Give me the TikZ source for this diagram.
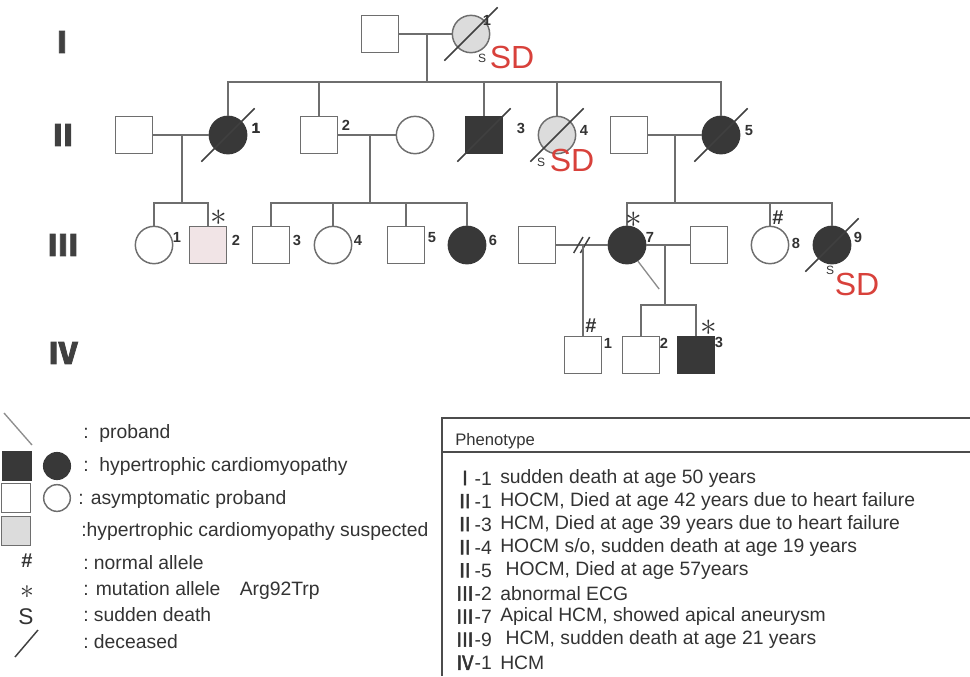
\documentclass[tikz,border=0pt]{standalone}
\usepackage{fontspec}
\setmainfont{Liberation Sans}
\newfontfamily\cjk{Noto Sans CJK JP}[FakeBold=2.5]
\definecolor{linegray}{HTML}{6E6E6E}
\definecolor{darkfill}{HTML}{383838}
\definecolor{lightfill}{HTML}{DCDCDC}
\definecolor{pinkfill}{HTML}{F1E4E6}
\definecolor{sdred}{HTML}{D8413B}
\newcommand{\deadslash}[1]{\draw[slash] ([shift={(-20pt,-20pt)}]#1.center) -- ([shift={(20pt,20pt)}]#1.center);}
\begin{document}
\begin{tikzpicture}[x=0.75pt, y=-0.75pt,
  male/.style={draw=linegray, line width=1.1pt, rectangle, minimum size=28pt, inner sep=0pt},
  female/.style={draw=linegray, line width=1.1pt, circle, minimum size=28pt, inner sep=0pt},
  ill/.style={fill=darkfill, draw=darkfill},
  doubt/.style={fill=lightfill},
  tie/.style={draw=linegray, line width=1.1pt},
  slash/.style={draw=black!75, line width=1.1pt},
  proband/.style={draw=black!45, line width=1pt},
  num/.style={font=\bfseries\fontsize{11}{11}\selectfont, text=black!80, inner sep=0pt},
  sd/.style={text=sdred, font=\fontsize{24}{24}\selectfont, inner sep=0pt},
  sym/.style={font=\bfseries\fontsize{15}{15}\selectfont, text=black!80, inner sep=0pt},
  star/.style={font=\fontsize{26}{26}\selectfont, text=black!80, inner sep=0pt},
  gen/.style={font=\cjk\bfseries\fontsize{22}{22}\selectfont, text=black!75, inner sep=0pt},
  legtext/.style={anchor=west, font=\fontsize{14.5}{14.5}\selectfont, text=black!80, inner sep=0pt}]
\useasboundingbox (0,0) rectangle (970,676);

% generations
\node[gen] (genI) at (62,42) {Ⅰ};
\node[gen] (genII) at (63,135) {Ⅱ};
\node[gen] (genIII) at (63,245) {Ⅲ};
\node[gen] (genIV) at (63,353) {Ⅳ};

% generation I
\node[male] (i0) at (380,34) {};
\node[female, doubt] (i1) at (471,34) {};
\coordinate (m1) at (427,34);
\coordinate (s1) at (427,82);
\draw[tie] (i0) -- (i1);
\draw[tie] (m1) -- (s1);
\deadslash{i1}
\node[num] (i1n) at (487,20) {1};
\node[sym, font=\small] (i1s) at (482,58) {S};
\node[sd] (i1sd) at (512,57) {SD};

% generation II
\node[male] (ii0) at (134,135) {};
\node[female, ill] (ii1) at (228,135) {};
\node[male] (ii2) at (319,135) {};
\node[female] (ii2w) at (415,135) {};
\node[male, ill] (ii3) at (484,135) {};
\node[female, doubt] (ii4) at (557,135) {};
\node[male] (ii5h) at (629,135) {};
\node[female, ill] (ii5) at (721,135) {};
\draw[tie] (ii1.north) |- (s1) -| (ii5.north);
\foreach \n in {ii2, ii3, ii4}
  \draw[tie] (\n.north) -- (\n.north |- s1);
\draw[tie] (ii0) -- (ii1);
\coordinate (m2) at (182,135);
\coordinate (s2) at (182,203);
\draw[tie] (m2) -- (s2);
\draw[tie] (ii2) -- (ii2w);
\coordinate (m3) at (370,135);
\coordinate (s3) at (370,203);
\draw[tie] (m3) -- (s3);
\draw[tie] (ii5h) -- (ii5);
\coordinate (m4) at (675,135);
\coordinate (s4) at (675,203);
\draw[tie] (m4) -- (s4);
\foreach \n in {ii1, ii3, ii4, ii5}
  \deadslash{\n}
\node[num] (ii1n) at (256,128) {1};
\node[num] (ii2n) at (346,125) {2};
\node[num] (ii3n) at (521,128) {3};
\node[num] (ii4n) at (584,130) {4};
\node[num] (ii5n) at (749,131) {5};
\node[sym, font=\small] (ii4s) at (541,162) {S};
\node[sd] (ii4sd) at (572,160) {SD};

% generation III
\node[female] (iii1) at (154,245) {};
\node[male, fill=pinkfill] (iii2) at (208,245) {};
\node[male] (iii3) at (271,245) {};
\node[female] (iii4) at (333,245) {};
\node[male] (iii5) at (406,245) {};
\node[female, ill] (iii6) at (467,245) {};
\node[male] (iii7h) at (537,245) {};
\node[female, ill] (iii7) at (627,245) {};
\node[male] (iii7t) at (709,245) {};
\node[female] (iii8) at (770,245) {};
\node[female, ill] (iii9) at (832,245) {};
\draw[tie] (iii1.north) |- (s2) -| (iii2.north);
\draw[tie] (iii3.north) |- (s3) -| (iii6.north);
\foreach \n in {iii4, iii5}
  \draw[tie] (\n.north) -- (\n.north |- s3);
\draw[tie] (iii7.north) |- (s4) -| (iii9.north);
\draw[tie] (iii8.north) -- (iii8.north |- s4);
\draw[tie] (iii7h) -- (iii7);
\coordinate (m5) at (583,245);
\draw[slash] ([shift={(-7pt,-6pt)}]m5) -- ++(7pt,12pt);
\draw[slash] ([shift={(-2pt,-6pt)}]m5) -- ++(7pt,12pt);
\draw[tie] (iii7) -- (iii7t);
\coordinate (m6) at (665,245);
\coordinate (s6) at (665,305);
\draw[tie] (m6) -- (s6);
\deadslash{iii9}
\draw[proband] (iii7.-56) -- ++(16pt,-21pt);
\node[num] (iii1n) at (177,237) {1};
\node[num] (iii2n) at (236,240) {2};
\node[num] (iii3n) at (297,240) {3};
\node[num] (iii4n) at (358,240) {4};
\node[num] (iii5n) at (432,238) {5};
\node[num] (iii6n) at (493,240) {6};
\node[num] (iii7n) at (650,237) {7};
\node[num] (iii8n) at (796,243) {8};
\node[num] (iii9n) at (858,237) {9};
\node[star] (iii2a) at (219,218) {$\ast$};
\node[star] (iii7a) at (634,220) {$\ast$};
\node[sym] (iii8h) at (778,218) {\#};
\node[sym, font=\small] (iii9s) at (830,270) {S};
\node[sd] (iii9sd) at (857,284) {SD};

% generation IV
\node[male] (iv1) at (583,355) {};
\node[male] (iv2) at (641,355) {};
\node[male, ill] (iv3) at (696,355) {};
\draw[tie] (m5) -- (iv1.north);
\draw[tie] (iv2.north) |- (s6) -| (iv3.north);
\node[num] (iv1n) at (608,343) {1};
\node[num] (iv2n) at (664,343) {2};
\node[num] (iv3n) at (719,342) {3};
\node[sym] (iv1h) at (591,326) {\#};
\node[star] (iv3a) at (709,328) {$\ast$};

% legend
\coordinate (lgpa) at (4,413);
\coordinate (lgpb) at (32,445);
\draw[proband] (lgpa) -- (lgpb);
\node[male, ill, minimum size=22pt] (lgsq) at (17,466) {};
\node[female, ill, minimum size=20pt] (lgci) at (57,466) {};
\node[male, minimum size=22pt] (lgsq2) at (16,498) {};
\node[female, minimum size=20pt] (lgci2) at (57,498) {};
\node[male, doubt, minimum size=22pt] (lgsq3) at (16,531) {};
\node[sym] (lghash) at (27,561) {\#};
\node[star, font=\fontsize{22}{22}\selectfont] (lgast) at (27,592) {$\ast$};
\node[sym, font=\fontsize{17}{17}\selectfont] (lgs) at (26,617) {S};
\coordinate (lgda) at (15,657);
\coordinate (lgdb) at (38,630);
\draw[slash] (lgda) -- (lgdb);
\node[legtext] (lt1) at (83,433) {:\ \ proband};
\node[legtext] (lt2) at (83,466) {:\ \ hypertrophic cardiomyopathy};
\node[legtext] (lt3) at (78,499) {: asymptomatic proband};
\node[legtext] (lt4) at (81,531) {:hypertrophic cardiomyopathy suspected};
\node[legtext] (lt5) at (83,563) {:\ normal allele};
\node[legtext] (lt6) at (83,590) {: mutation allele\quad Arg92Trp};
\node[legtext] (lt7) at (83,615) {:\ sudden death};
\node[legtext] (lt8) at (83,642) {:\ deceased};

% phenotype table
\draw[draw=black!70, line width=1pt] (970,418) -- (442,418) -- (442,676);
\draw[draw=black!70, line width=2pt] (442,452) -- (970,452);
\node[legtext, font=\fontsize{12.5}{12.5}\selectfont] (phead) at (455,441) {Phenotype};
\foreach \g/\t [count=\i] in {{\cjk Ⅰ}-1/sudden death at age 50 years,
    {\cjk Ⅱ}-1/{HOCM, Died at age 42 years due to heart failure},
    {\cjk Ⅱ}-3/{HCM, Died at age 39 years due to heart failure},
    {\cjk Ⅱ}-4/{HOCM s/o, sudden death at age 19 years},
    {\cjk Ⅱ}-5/{\ HOCM, Died at age 57years},
    {\cjk Ⅲ}-2/abnormal ECG,
    {\cjk Ⅲ}-7/{Apical HCM, showed apical aneurysm},
    {\cjk Ⅲ}-9/{\ HCM, sudden death at age 21 years},
    {\cjk Ⅳ}-1/HCM} {
  \node[legtext] (rg\i) at (455,{478+23.1*(\i-1)}) {\g};
  \node[legtext] (rt\i) at (500,{478+23.1*(\i-1)}) {\t};
}
\end{tikzpicture}
\end{document}
